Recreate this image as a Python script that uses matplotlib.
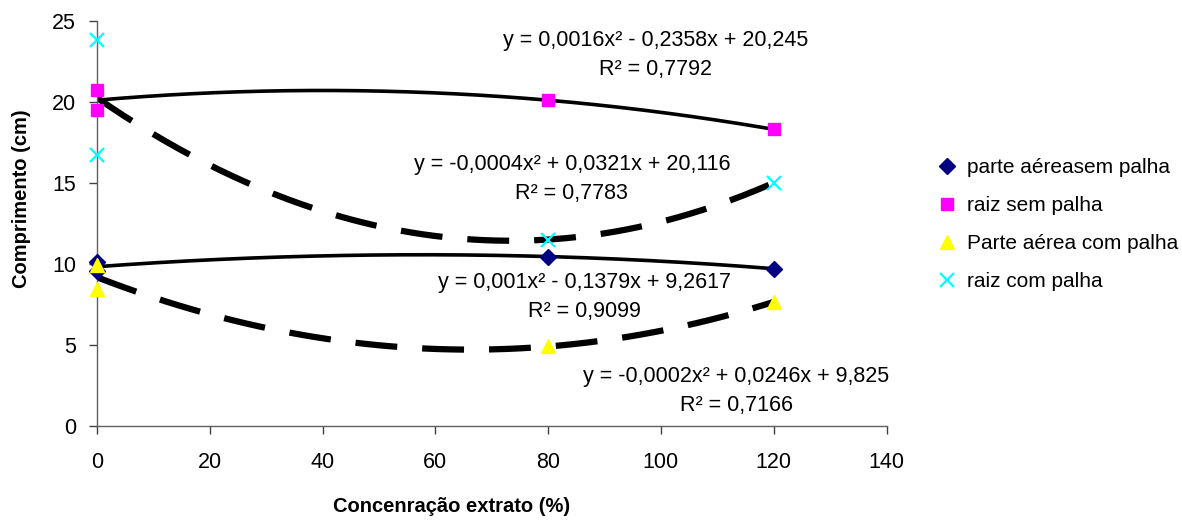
import numpy as np
import matplotlib
matplotlib.use("Agg")
import matplotlib.pyplot as plt

plt.rcParams['font.family'] = ['Liberation Sans', 'DejaVu Sans']

# Data
x_pa_sem = [0, 0, 80, 120]
y_pa_sem = [10.1, 9.55, 10.45, 9.7]
x_raiz_sem = [0, 0, 80, 120]
y_raiz_sem = [20.7, 19.5, 20.1, 18.3]
x_pa_com = [0, 0, 80, 120]
y_pa_com = [9.9, 8.45, 4.9, 7.65]
x_raiz_com = [0, 0, 80, 120]
y_raiz_com = [23.8, 16.7, 11.5, 15.0]

labels = ["parte aéreasem palha", "raiz sem palha", "Parte aérea com palha", "raiz com palha"]

eq_texts = [
    "y = 0,0016x² - 0,2358x + 20,245\nR² = 0,7792",
    "y = -0,0004x² + 0,0321x + 20,116\nR² = 0,7783",
    "y = 0,001x² - 0,1379x + 9,2617\nR² = 0,9099",
    "y = -0,0002x² + 0,0246x + 9,825\nR² = 0,7166",
]
eq_pos = [(99.0, 22.9), (84.2, 15.25), (86.5, 7.96), (113.4, 2.16)]

xticks = [0, 20, 40, 60, 80, 100, 120, 140]
yticks = [0, 5, 10, 15, 20, 25]

fig = plt.figure(figsize=(11.82, 5.2), dpi=100)
ax = fig.add_axes([0.082, 0.181, 0.668, 0.779])

xs = np.linspace(0, 120, 200)

def trend(xd, yd, style):
    c = np.polyfit(xd, yd, 2)
    if style == 'solid':
        ax.plot(xs, np.polyval(c, xs), color='black', lw=2.6, solid_capstyle='butt', zorder=2)
    else:
        ax.plot(xs, np.polyval(c, xs), color='black', lw=4.5, linestyle=(0, (6.7, 4.0)),
                dash_capstyle='butt', zorder=2)

trend(x_raiz_sem, y_raiz_sem, 'solid')
trend(x_raiz_com, y_raiz_com, 'dashed')
trend(x_pa_sem, y_pa_sem, 'solid')
trend(x_pa_com, y_pa_com, 'dashed')

ax.plot(x_pa_sem, y_pa_sem, linestyle='none', marker='D', ms=8, color='#000080',
        label=labels[0], clip_on=False, zorder=3)
ax.plot(x_raiz_sem, y_raiz_sem, linestyle='none', marker='s', ms=8.5, color='#FF00FF',
        label=labels[1], clip_on=False, zorder=3)
ax.plot(x_pa_com, y_pa_com, linestyle='none', marker='^', ms=10.5, color='#FFFF00',
        label=labels[2], clip_on=False, zorder=3)
ax.plot(x_raiz_com, y_raiz_com, linestyle='none', marker='x', ms=10, mew=1.6, color='#00FFFF',
        label=labels[3], clip_on=False, zorder=3)

for t, (px, py) in zip(eq_texts, eq_pos):
    ax.text(px, py, t, ha='center', va='center', fontsize=15.5, linespacing=1.5, color='black')

ax.set_xlim(0, 140)
ax.set_ylim(0, 25)
ax.set_xticks(xticks)
ax.set_yticks(yticks)
ax.tick_params(axis='both', labelsize=15.5, direction='out', length=6, width=1, color='#404040')
ax.tick_params(axis='x', pad=13)
ax.tick_params(axis='y', pad=9)
for s in ['top', 'right']:
    ax.spines[s].set_visible(False)
for s in ['left', 'bottom']:
    ax.spines[s].set_color('#606060')
    ax.spines[s].set_linewidth(1)

fig.text(452 / 1182, 1 - 506 / 520, "Concenração extrato (%)", fontsize=14.5, fontweight='bold',
         ha='center', va='center')
fig.text(22 / 1182, 1 - 199 / 520, "Comprimento (cm)", fontsize=14.5, fontweight='bold',
         ha='center', va='center', rotation=90)

fig.legend(loc='center left', bbox_to_anchor=(0.785, 0.568), frameon=False, fontsize=15,
           handlelength=1.0, handletextpad=0.5, labelspacing=0.92, borderaxespad=0)

fig.savefig("out.png", dpi=100)
